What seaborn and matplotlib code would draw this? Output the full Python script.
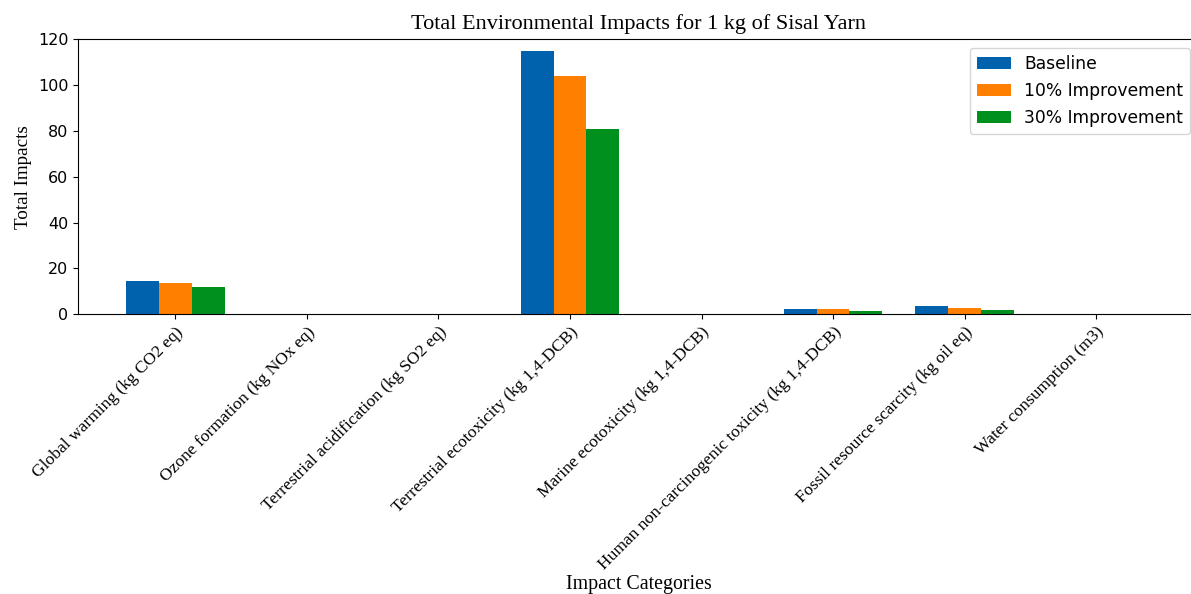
import pandas as pd
import seaborn as sns
import matplotlib.pyplot as plt

categories = [
    'Global warming (kg CO2 eq)',
    'Ozone formation (kg NOx eq)',
    'Terrestrial acidification (kg SO2 eq)',
    'Terrestrial ecotoxicity (kg 1,4-DCB)',
    'Marine ecotoxicity (kg 1,4-DCB)',
    'Human non-carcinogenic toxicity (kg 1,4-DCB)',
    'Fossil resource scarcity (kg oil eq)',
    'Water consumption (m3)',
]
baseline = [14.3, 0.05, 0.08, 114.9, 0.05, 2.2, 3.4, 0.1]
improve_10 = [13.5, 0.045, 0.07, 103.8, 0.045, 2.1, 2.8, 0.09]
improve_30 = [11.8, 0.035, 0.056, 80.9, 0.035, 1.5, 2.0, 0.07]
scenarios = ['Baseline', '10% Improvement', '30% Improvement']
colors = ['#0062ad', '#ff7f00', '#00901e']

df = pd.DataFrame({
    'Impact Category': categories * 3,
    'Scenario': [s for s in scenarios for _ in categories],
    'Total Impacts': baseline + improve_10 + improve_30,
})

fig = plt.figure(figsize=(11.91, 5.94), dpi=100)
# the original picture is cropped on the right, so the axes run past the edge
ax = fig.add_axes([0.0655, 0.471, 0.941, 0.463])

sns.barplot(data=df, x='Impact Category', y='Total Impacts', hue='Scenario',
            palette=colors, width=0.75, gap=0, saturation=1, ax=ax, errorbar=None)

ax.set_ylim(0, 120)
ax.set_xlim(-0.74, 7.78)
ax.set_title('Total Environmental Impacts for 1 kg of Sisal Yarn',
             fontfamily='Liberation Serif', fontsize=16, pad=7)
ax.set_xlabel('Impact Categories', fontfamily='Liberation Serif', fontsize=14.3, labelpad=1)
ax.set_ylabel('Total Impacts', fontfamily='Liberation Serif', fontsize=13.8)
ax.set_xticks(range(len(categories)))
ax.set_xticklabels(categories, rotation=45, ha='right', rotation_mode='anchor',
                   fontfamily='Liberation Serif', fontsize=12.6)
ax.tick_params(axis='y', labelsize=11.5)
ax.legend(loc='upper right', fontsize=12.3, labelspacing=0.55)

fig.savefig('out.png', dpi=100)
